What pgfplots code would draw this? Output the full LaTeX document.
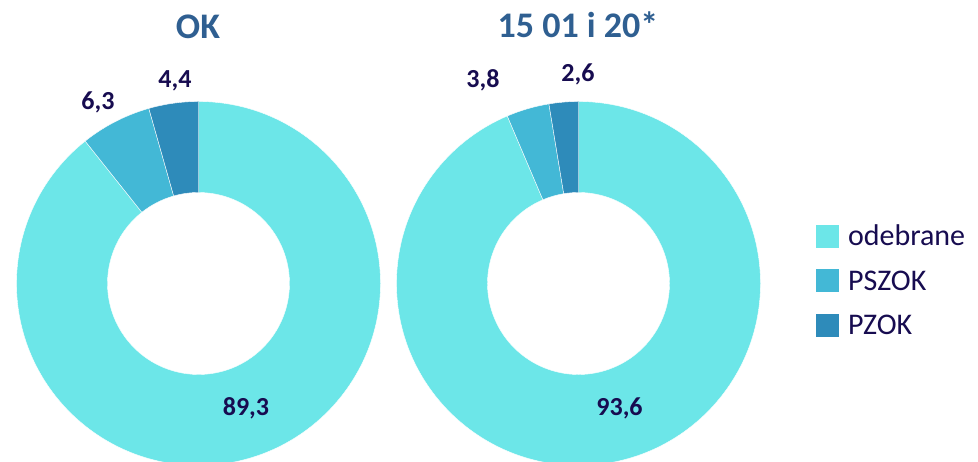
\documentclass[border=0pt]{standalone}
\usepackage{pgfplots}
\pgfplotsset{compat=1.18}
\usepackage{pgfplotstable}
\usepackage{fontspec}
\setmainfont{Carlito}

\definecolor{cOdeb}{HTML}{6CE6E8}
\definecolor{cPszok}{HTML}{43B8D6}
\definecolor{cPzok}{HTML}{2E8BBA}
\definecolor{titleblue}{HTML}{2F5F91}
\definecolor{navy}{HTML}{170C50}

% udzialy procentowe
\pgfplotstableread{
name     val
odebrane 89.3
PSZOK    6.3
PZOK     4.4
}\dataok
\pgfplotstableread{
name     val
odebrane 93.6
PSZOK    3.8
PZOK     2.6
}\datakod

% katy wycinkow (start na godz. 12, zgodnie z ruchem wskazowek)
\newcommand\angles[2]{%
  \pgfplotstablegetelem{0}{val}\of#1\pgfmathsetmacro\tmpa{\pgfplotsretval}%
  \pgfplotstablegetelem{1}{val}\of#1\pgfmathsetmacro\tmpb{\pgfplotsretval}%
  \pgfmathsetmacro\tmpA{90-3.6*\tmpa}%
  \pgfmathsetmacro\tmpB{\tmpA-3.6*\tmpb}%
  \expandafter\let\csname #2A\endcsname\tmpA
  \expandafter\let\csname #2B\endcsname\tmpB
}
\angles{\dataok}{ok}
\angles{\datakod}{kod}

\def\Ro{182}
\def\Ri{91}
% wycinek pierscienia: srodek x, srodek y, kat od, kat do, kolor
\newcommand\slice[5]{%
  \fill[#5, draw=white, line width=0.4pt]
    ([shift={(axis cs:#1,#2)}]#3:\Ro pt) arc[start angle=#3, end angle=#4, radius=\Ro pt]
    -- ([shift={(axis cs:#1,#2)}]#4:\Ri pt) arc[start angle=#4, end angle=#3, radius=\Ri pt]
    -- cycle;}

\begin{document}
\begin{tikzpicture}
\useasboundingbox (0,0) rectangle (978pt,462pt);
\begin{axis}[
  at={(0,0)}, anchor=origin,
  width=978pt, height=462pt, scale only axis,
  xmin=0, xmax=978, ymin=0, ymax=462,
  hide axis, clip=false,
  legend style={at={(axis cs:816,238)}, anchor=north west, draw=none,
    inner sep=0pt, outer sep=0pt, fill=none,
    font=\fontsize{30}{36}\selectfont, text=navy,
    nodes={inner sep=0pt, text height=22pt, text depth=0pt},
    cells={anchor=base west},
    column sep=9pt, row sep=20.5pt},
  legend image code/.code={\fill[#1] (0pt,-2pt) rectangle (23pt,21pt);},
]
\addlegendimage{fill=cOdeb, draw=none}\addlegendentry{odebrane}
\addlegendimage{fill=cPszok, draw=none}\addlegendentry{PSZOK}
\addlegendimage{fill=cPzok, draw=none}\addlegendentry{PZOK}

\slice{198.5}{178.5}{90}{\okA}{cOdeb}
\slice{198.5}{178.5}{\okA}{\okB}{cPszok}
\slice{198.5}{178.5}{\okB}{-270}{cPzok}

\slice{578.5}{178.5}{90}{\kodA}{cOdeb}
\slice{578.5}{178.5}{\kodA}{\kodB}{cPszok}
\slice{578.5}{178.5}{\kodB}{-270}{cPzok}

\begin{scope}[every node/.style={anchor=base, text=navy, inner sep=0pt,
    font=\fontsize{26}{30}\selectfont\bfseries}]
\node at (axis cs:98,352) {6,3};
\node at (axis cs:175,374) {4,4};
\node at (axis cs:246,46) {89,3};
\node at (axis cs:483,374) {3,8};
\node at (axis cs:578,380) {2,6};
\node at (axis cs:619.5,46) {93,6};
\end{scope}

\begin{scope}[every node/.style={anchor=base, text=titleblue, inner sep=0pt,
    font=\fontsize{36}{42}\selectfont\bfseries}]
\node at (axis cs:198,423) {OK};
\node at (axis cs:578,424) {15 01 i 20*};
\end{scope}
\end{axis}
\end{tikzpicture}
\end{document}
